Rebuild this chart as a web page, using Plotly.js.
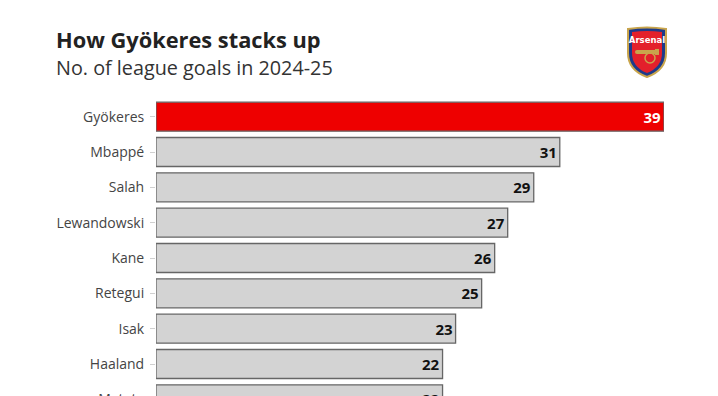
<!DOCTYPE html>
<html>
<head>
<meta charset="utf-8">
<script src="https://cdn.plot.ly/plotly-3.0.1.min.js"></script>
<style>
html,body{margin:0;padding:0;overflow:hidden;background:#fff;width:718px;height:396px;}
#chart{width:718px;height:460px;}
</style>
</head>
<body>
<div id="chart"></div>
<script>
const players = ["Gyökeres","Mbappé","Salah","Lewandowski","Kane","Retegui","Isak","Haaland","Mateta"];
const goals = [39,31,29,27,26,25,23,22,22];
const highlight = "Gyökeres";

const barColors = players.map(p => p === highlight ? "#ee0000" : "#d3d3d3");
const textColors = players.map(p => p === highlight ? "#ffffff" : "#111111");

const crest = `<svg xmlns="http://www.w3.org/2000/svg" viewBox="0 0 44 52" width="44" height="52">
<path d="M3,3 Q22,0 41,3 L41,27 Q41,44 22,51 Q3,44 3,27 Z" fill="#1d3a8a" stroke="#c9a54c" stroke-width="2"/>
<path d="M7,6 Q22,4 37,6 L37,27 Q37,41 22,47 Q7,41 7,27 Z" fill="#e3202b"/>
<text x="22" y="17" font-family="DejaVu Sans" font-weight="bold" font-size="8.5" fill="#fff" text-anchor="middle">Arsenal</text>
<rect x="10" y="24" width="22" height="4" rx="2" fill="#c9a54c"/>
<circle cx="25" cy="32" r="5" fill="none" stroke="#c9a54c" stroke-width="1.5"/>
<rect x="30" y="23" width="4" height="6" fill="#c9a54c"/>
</svg>`;

const trace = {
  type: "bar",
  orientation: "h",
  y: players,
  x: goals,
  text: goals.map(String),
  textposition: "inside",
  insidetextanchor: "end",
  textfont: {family: "'Open Sans', sans-serif", size: 15, color: textColors, weight: "bold"},
  marker: {color: barColors, line: {color: "#666666", width: 1.3}},
  hoverinfo: "skip",
  cliponaxis: false
};

const layout = {
  width: 718,
  height: 460,
  margin: {l: 156, r: 54, t: 99, b: 43, pad: 0},
  paper_bgcolor: "#ffffff",
  plot_bgcolor: "#ffffff",
  bargap: 0.18,
  showlegend: false,
  xaxis: {range: [0, 39], visible: false, fixedrange: true},
  yaxis: {
    autorange: "reversed",
    showgrid: false,
    zeroline: false,
    showline: false,
    ticks: "outside",
    ticklen: 5,
    tickwidth: 1,
    tickcolor: "#d0d0d0",
    ticklabelstandoff: 3,
    tickfont: {family: "'Open Sans', sans-serif", size: 14, color: "#444444"},
    fixedrange: true
  },
  annotations: [
    {xref: "paper", yref: "paper", x: -102/508, y: 1 + (99-39.5)/317.7, xanchor: "left", yanchor: "middle",
     text: "<b>How Gyökeres stacks up</b>", showarrow: false,
     font: {family: "'Open Sans', sans-serif", size: 21.8, color: "#222222"}},
    {xref: "paper", yref: "paper", x: -102/508, y: 1 + (99-67.5)/317.7, xanchor: "left", yanchor: "middle",
     text: "No. of league goals in 2024-25", showarrow: false,
     font: {family: "'Open Sans', sans-serif", size: 19.8, color: "#333333"}}
  ],
  images: [{
    source: "data:image/svg+xml;charset=utf-8," + encodeURIComponent(crest),
    xref: "paper", yref: "paper",
    x: (625-156)/508, y: 1 + (99-26)/317.7,
    sizex: 44/508, sizey: 52/317.7,
    xanchor: "left", yanchor: "top", sizing: "stretch", layer: "above"
  }]
};

Plotly.newPlot("chart", [trace], layout, {displayModeBar: false, staticPlot: true});
</script>
</body>
</html>
